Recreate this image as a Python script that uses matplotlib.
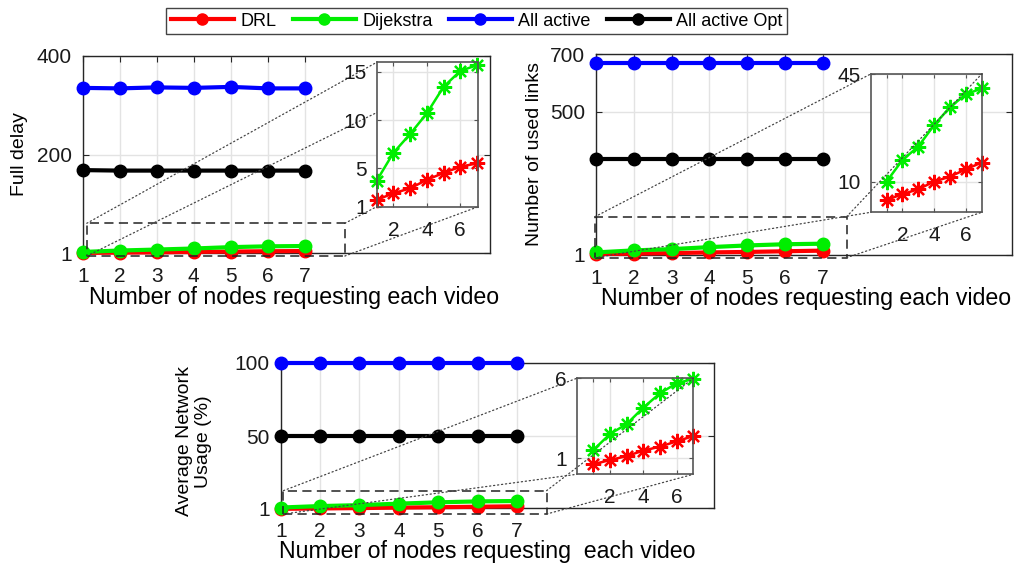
import matplotlib
matplotlib.use("Agg")
import matplotlib.pyplot as plt
from matplotlib.patches import Rectangle, ConnectionPatch
from matplotlib.lines import Line2D

plt.rcParams['font.family'] = ['Liberation Sans', 'DejaVu Sans']

# ---------------- data ----------------
nodes = [1, 2, 3, 4, 5, 6, 7]
series_names = ["DRL", "Dijekstra", "All active", "All active Opt"]
series_colors = ["#ff0000", "#00ee00", "#0000ff", "#000000"]

delay_drl = [1.7, 2.4, 2.9, 3.8, 4.5, 5.15, 5.5]
delay_dij = [3.7, 6.6, 8.55, 10.7, 13.45, 15.1, 15.7]
delay_all = [335, 334, 336, 335, 337, 334, 334]
delay_opt = [169, 168, 168, 168, 168, 168, 168]

links_drl = [4.0, 5.9, 7.5, 10.0, 11.6, 14.0, 16.2]
links_dij = [10.0, 17.0, 21.4, 28.4, 34.2, 38.4, 40.3]
links_all = [670, 670, 670, 670, 670, 670, 670]
links_opt = [335, 335, 335, 335, 335, 335, 335]

usage_drl = [0.63, 0.89, 1.14, 1.48, 1.73, 2.06, 2.39]
usage_dij = [1.52, 2.52, 3.14, 4.17, 5.06, 5.69, 5.96]
usage_all = [100, 100, 100, 100, 100, 100, 100]
usage_opt = [50, 50, 50, 50, 50, 50, 50]

delay_yticks = [1, 200, 400]
links_yticks = [1, 500, 700]
usage_yticks = [1, 50, 100]
inset_xticks = [2, 4, 6]

xlabel_text = "Number of nodes requesting each video"
xlabel_text3 = "Number of nodes requesting  each video"

W, H = 1016, 568
fig = plt.figure(figsize=(W / 100, H / 100), dpi=100)

def px_axes(l, t, r, b):
    return [l / W, 1 - b / H, (r - l) / W, (b - t) / H]

AX_COL = "#262626"
TICK_FS = 15
ASTERISK = (8, 2, 0)

def style_main(ax, yticks, ylim):
    ax.set_xlim(1, 12)
    ax.set_ylim(*ylim)
    ax.set_xticks(nodes)
    ax.set_yticks(yticks)
    ax.grid(True, color="#e3e3e3", lw=1.0)
    ax.set_axisbelow(True)
    for s in ax.spines.values():
        s.set_color(AX_COL)
        s.set_linewidth(1.0)
    ax.tick_params(direction="in", length=4, top=True, right=True, colors=AX_COL,
                   labelsize=TICK_FS, labelcolor="#1a1a1a")
    ax.tick_params(axis="x", pad=10)
    ax.tick_params(axis="y", pad=8)

def draw_main(ax, ys):
    for y, c in zip(ys, series_colors):
        ax.plot(nodes, y, "-o", color=c, lw=3, ms=9, clip_on=False, zorder=3)

def style_inset(ax, xlim, ylim, yticks):
    ax.set_xlim(*xlim)
    ax.set_ylim(*ylim)
    ax.set_yticks(yticks)
    gx = [v for v in [1, 2, 4, 6] if xlim[0] < v < xlim[1]]
    ax.set_xticks(gx)
    ax.set_xticklabels([str(v) if v in inset_xticks else "" for v in gx])
    ax.grid(True, color="#e3e3e3", lw=1.0)
    ax.set_axisbelow(True)
    for s in ax.spines.values():
        s.set_color("#555555")
        s.set_linewidth(1.2)
    ax.tick_params(direction="in", length=3, top=True, right=True, colors="#555555",
                   labelsize=TICK_FS, labelcolor="#1a1a1a")
    ax.tick_params(axis="x", pad=10)
    ax.tick_params(axis="y", pad=7)
    ax.set_facecolor("white")

def draw_inset(ax, drl, dij):
    ax.plot(nodes, dij, "-", marker=ASTERISK, color=series_colors[1], lw=1.8, ms=11, mew=1.6, clip_on=False)
    ax.plot(nodes, drl, "-", marker=ASTERISK, color=series_colors[0], lw=1.8, ms=11, mew=1.6, clip_on=False)

def zoom_box(ax, ins, x0, y0, x1, y1, pairs, line_z):
    ax.add_patch(Rectangle((x0, y0), x1 - x0, y1 - y0, fill=False, ec="#222222",
                           lw=1.1, ls=(0, (6, 3.5)), clip_on=False, zorder=4))
    corners_r = {"TL": (x0, y1), "BL": (x0, y0), "TR": (x1, y1), "BR": (x1, y0)}
    corners_i = {"TL": (0, 1), "BL": (0, 0), "TR": (1, 1), "BR": (1, 0)}
    for a, b in pairs:
        cp = ConnectionPatch(xyA=corners_r[a], coordsA=ax.transData,
                             xyB=corners_i[b], coordsB=ins.transAxes,
                             color="#444444", lw=0.9, ls=(0, (1, 2.2)), zorder=line_z)
        fig.add_artist(cp)

# ---------------- plot 1 ----------------
ax1 = fig.add_axes(px_axes(82.7, 55.7, 490, 253.3))
style_main(ax1, delay_yticks, (1, 400))
draw_main(ax1, [delay_drl, delay_dij, delay_all, delay_opt])
ax1.set_ylabel("Full delay", fontsize=14, va="center")
ax1.yaxis.set_label_coords(-0.154, 0.5)
ax1.set_xlabel(xlabel_text, fontsize=16.7, va="center")
ax1.xaxis.set_label_coords(0.519, -0.226)

in1 = fig.add_axes(px_axes(376.7, 62.3, 478.3, 206.7))
in1.set_zorder(3)
style_inset(in1, (1, 7.08), (1, 16), [1, 5, 10, 15])
draw_inset(in1, delay_drl, delay_dij)
zoom_box(ax1, in1, 1.11, -4.5, 8.08, 61.6,
         [("TL", "TL"), ("BL", "TR"), ("TR", "BL"), ("BR", "BR")], 2)

# ---------------- plot 2 ----------------
ax2 = fig.add_axes(px_axes(596, 54, 1011.7, 255))
style_main(ax2, links_yticks, (1, 700))
draw_main(ax2, [links_drl, links_dij, links_all, links_opt])
ax2.set_ylabel("Number of used links", fontsize=14, va="center")
ax2.yaxis.set_label_coords(-0.147, 0.5)
ax2.set_xlabel(xlabel_text, fontsize=16.7, va="center")
ax2.xaxis.set_label_coords(0.505, -0.215)

in2 = fig.add_axes(px_axes(870.7, 74, 981.7, 212.3))
in2.set_zorder(3)
style_inset(in2, (0, 7), (0, 45), [10, 45])
draw_inset(in2, links_drl, links_dij)
zoom_box(ax2, in2, 0.97, -8.4, 7.63, 134,
         [("TL", "TL"), ("BL", "BL"), ("TR", "TR"), ("BR", "BR")], 5)

# ---------------- plot 3 ----------------
ax3 = fig.add_axes(px_axes(280.7, 362.7, 714, 508.3))
style_main(ax3, usage_yticks, (1, 100))
draw_main(ax3, [usage_drl, usage_dij, usage_all, usage_opt])
ax3.set_ylabel("Average Network\nUsage (%)", fontsize=14, va="center", linespacing=1.1)
ax3.yaxis.set_label_coords(-0.2, 0.46)
ax3.set_xlabel(xlabel_text3, fontsize=16.7, va="center")
ax3.xaxis.set_label_coords(0.477, -0.30)

in3 = fig.add_axes(px_axes(576.7, 378.3, 693.3, 474.3))
in3.set_zorder(3)
style_inset(in3, (0, 7), (0, 6), [1, 6])
draw_inset(in3, usage_drl, usage_dij)
zoom_box(ax3, in3, 1.07, -2.9, 7.75, 13,
         [("TL", "TL"), ("BL", "BL"), ("TR", "TR"), ("BR", "BR")], 5)

# ---------------- legend ----------------
handles = [Line2D([], [], color=c, lw=3, marker="o", ms=8) for c in series_colors]
leg = fig.legend(handles, series_names, loc="center", bbox_to_anchor=(0.4693, 0.9625),
                 ncol=4, fontsize=13, frameon=True, fancybox=False, framealpha=1,
                 edgecolor="#444444", handlelength=3.5, handletextpad=0.35,
                 columnspacing=0.9, borderpad=0.25, borderaxespad=0)
leg.get_frame().set_linewidth(1.0)

fig.savefig("out.png", dpi=100)
